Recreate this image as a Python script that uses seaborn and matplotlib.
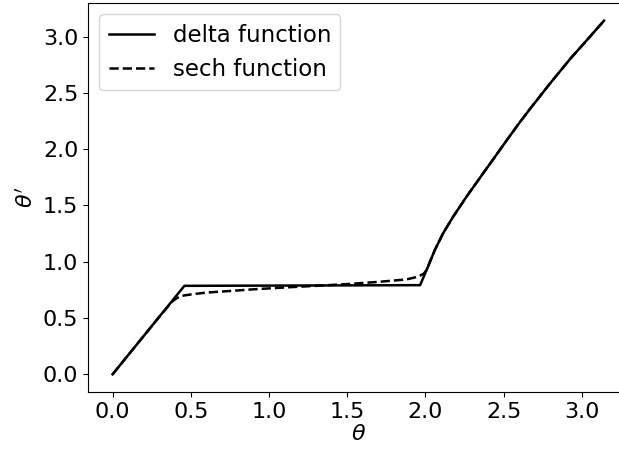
import numpy as np
import pandas as pd
import matplotlib
matplotlib.use("Agg")
import matplotlib.pyplot as plt
import seaborn as sns

# delta function curve
delta_x = [0.0, 0.459, 1.000, 1.500, 1.966, 2.007, 2.060, 2.113, 2.177, 2.263,
           2.348, 2.433, 2.520, 2.600, 2.668, 2.796, 2.924, 3.052, 3.1416]
delta_y = [0.0, 0.786, 0.788, 0.790, 0.792, 0.926, 1.104, 1.253, 1.400, 1.579,
           1.745, 1.910, 2.080, 2.233, 2.357, 2.583, 2.800, 3.000, 3.1416]

# sech function curve
sech_x = [0.0, 0.300, 0.380, 0.407, 0.440, 0.514, 0.600, 0.770, 0.900, 1.110,
          1.300, 1.495, 1.708, 1.879, 1.953, 1.990, 2.007, 2.060, 2.113, 2.177,
          2.263, 2.348, 2.433, 2.520, 2.600, 2.668, 2.796, 2.924, 3.052, 3.1416]
sech_y = [0.0, 0.513, 0.645, 0.674, 0.697, 0.712, 0.726, 0.742, 0.755, 0.772,
          0.786, 0.801, 0.822, 0.843, 0.867, 0.895, 0.926, 1.104, 1.253, 1.400,
          1.579, 1.745, 1.910, 2.080, 2.233, 2.357, 2.583, 2.800, 3.000, 3.1416]

df_delta = pd.DataFrame({"theta": delta_x, "theta_p": delta_y})
df_sech = pd.DataFrame({"theta": sech_x, "theta_p": sech_y})

plt.rcParams["font.size"] = 16

fig = plt.figure(figsize=(6.19, 4.53), dpi=100)
ax = fig.add_axes([0.1422, 0.1347, 0.8733, 0.8587])

sns.lineplot(data=df_delta, x="theta", y="theta_p", sort=False, estimator=None,
             color="black", linestyle="-", linewidth=1.8, label="delta function", ax=ax)
sns.lineplot(data=df_sech, x="theta", y="theta_p", sort=False, estimator=None,
             color="black", linestyle="--", linewidth=1.8, label="sech function", ax=ax)

ax.set_xlabel(r"$\theta$", fontsize=16, labelpad=2)
ax.set_ylabel(r"$\theta'$", fontsize=16)
ax.set_xticks([0.0, 0.5, 1.0, 1.5, 2.0, 2.5, 3.0])
ax.set_yticks([0.0, 0.5, 1.0, 1.5, 2.0, 2.5, 3.0])
ax.tick_params(labelsize=16)
ax.legend(loc="upper left", fontsize=16.5)

fig.savefig("out.png", dpi=100)
